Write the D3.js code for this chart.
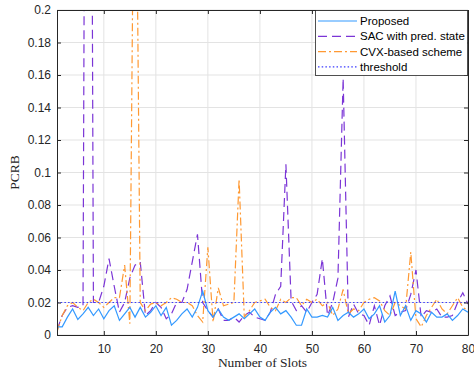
<!DOCTYPE html>
<html>
<head>
<meta charset="utf-8">
<script src="https://cdn.jsdelivr.net/npm/d3@7"></script>
<style>
  body { margin: 0; background: #fff; }
  svg { display: block; }
</style>
</head>
<body>
<svg id="chart"></svg>
<script>
// slots 1..80
const slots = d3.range(1, 81);

const proposed = [0.005, 0.005, 0.011, 0.016, 0.0096, 0.013, 0.017, 0.012, 0.016, 0.010,
  0.015, 0.018, 0.009, 0.013, 0.017, 0.011, 0.017, 0.011, 0.014, 0.018,
  0.012, 0.017, 0.006, 0.009, 0.013, 0.016, 0.011, 0.017, 0.027, 0.015,
  0.011, 0.016, 0.011, 0.009, 0.011, 0.013, 0.010, 0.013, 0.016, 0.011,
  0.009, 0.014, 0.017, 0.013, 0.015, 0.011, 0.006, 0.006, 0.016, 0.011,
  0.011, 0.012, 0.011, 0.017, 0.009, 0.012, 0.014, 0.011, 0.013, 0.016,
  0.010, 0.013, 0.018, 0.008, 0.012, 0.027, 0.012, 0.018, 0.009, 0.015,
  0.013, 0.008, 0.014, 0.011, 0.011, 0.013, 0.009, 0.012, 0.016, 0.014];

const sac = [0.003, 0.012, 0.017, 0.018, 0.017, 0.018, 0.9, 0.02, 0.02, 0.03,
  0.047, 0.03, 0.014, 0.02, 0.035, 0.043, 0.045, 0.012, 0.015, 0.02,
  0.017, 0.010, 0.013, 0.02, 0.02, 0.028, 0.045, 0.062, 0.02, 0.015,
  0.011, 0.016, 0.009, 0.009, 0.011, 0.008, 0.012, 0.014, 0.011, 0.010,
  0.009, 0.014, 0.025, 0.030, 0.105, 0.021, 0.015, 0.018, 0.014, 0.02,
  0.025, 0.047, 0.012, 0.02, 0.035, 0.158, 0.011, 0.019, 0.013, 0.012,
  0.006, 0.018, 0.006, 0.018, 0.024, 0.012, 0.014, 0.015, 0.025, 0.040,
  0.011, 0.015, 0.014, 0.016, 0.011, 0.011, 0.012, 0.020, 0.026, 0.019];

const cvx = [0.002, 0.012, 0.018, 0.02, 0.017, 0.015, 0.02, 0.022, 0.02, 0.017,
  0.02, 0.023, 0.023, 0.043, 0.007, 0.38, 0.02, 0.015, 0.019, 0.02,
  0.018, 0.02, 0.023, 0.022, 0.02, 0.02, 0.018, 0.012, 0.008, 0.054,
  0.008, 0.029, 0.018, 0.019, 0.02, 0.096, 0.011, 0.015, 0.02, 0.021,
  0.022, 0.017, 0.015, 0.022, 0.02, 0.023, 0.023, 0.018, 0.022, 0.02,
  0.022, 0.018, 0.02, 0.012, 0.016, 0.028, 0.013, 0.016, 0.015, 0.02,
  0.022, 0.023, 0.021, 0.015, 0.012, 0.02, 0.018, 0.016, 0.051, 0.01,
  0.005, 0.012, 0.017, 0.022, 0.016, 0.013, 0.018, 0.023, 0.017, 0.015];

const threshold = slots.map(() => 0.02);

const xTicks = [10, 20, 30, 40, 50, 60, 70, 80];
const yTicks = d3.range(0, 0.2001, 0.02);

const seriesNames = ['Proposed', 'SAC with pred. state', 'CVX-based scheme', 'threshold'];
const seriesColors = ['#3399ff', '#7b35d6', '#ff9933', '#3b3bff'];
const seriesDash = [null, '9,5', '8,3,2,3', '1.5,2.2'];
const seriesData = [proposed, sac, cvx, threshold];

const width = 474, height = 370;
const margin = {top: 10, right: 6, bottom: 35, left: 57};

const svg = d3.select('#chart')
              .attr('width', width)
              .attr('height', height);

const x = d3.scaleLinear()
            .domain([1, 80])
            .range([margin.left, width - margin.right]);

const y = d3.scaleLinear()
            .domain([0, 0.2])
            .range([height - margin.bottom, margin.top]);

svg.append('defs')
   .append('clipPath')
   .attr('id', 'clip')
   .append('rect')
   .attr('x', margin.left)
   .attr('y', margin.top)
   .attr('width', width - margin.left - margin.right)
   .attr('height', height - margin.top - margin.bottom);

// grid
svg.append('g')
   .selectAll('line')
   .data(xTicks)
   .enter()
   .append('line')
   .attr('x1', d => x(d)).attr('x2', d => x(d))
   .attr('y1', margin.top).attr('y2', height - margin.bottom)
   .attr('stroke', '#e3e3e3');

svg.append('g')
   .selectAll('line')
   .data(yTicks)
   .enter()
   .append('line')
   .attr('x1', margin.left).attr('x2', width - margin.right)
   .attr('y1', d => y(d)).attr('y2', d => y(d))
   .attr('stroke', '#e3e3e3');

// series
const line = d3.line()
               .x((d, i) => x(slots[i]))
               .y(d => y(d));

const plot = svg.append('g').attr('clip-path', 'url(#clip)');

[1, 2, 0, 3].forEach(k => {
  plot.append('path')
      .datum(seriesData[k])
      .attr('fill', 'none')
      .attr('stroke', seriesColors[k])
      .attr('stroke-width', 1.2)
      .attr('stroke-dasharray', seriesDash[k])
      .attr('d', line);
});

// axes
const axisColor = '#262626';
const fontSans = 'Liberation Sans, Arial, sans-serif';

svg.append('g')
   .attr('transform', 'translate(0,' + (height - margin.bottom) + ')')
   .call(d3.axisBottom(x).tickValues(xTicks).tickSize(-4).tickPadding(9).tickSizeOuter(0));

svg.append('g')
   .attr('transform', 'translate(' + margin.left + ',0)')
   .call(d3.axisLeft(y).tickValues(yTicks).tickSize(-4).tickPadding(6).tickSizeOuter(0)
           .tickFormat(d => d3.format('~g')(+d.toFixed(2))));

svg.append('g')
   .attr('transform', 'translate(0,' + margin.top + ')')
   .call(d3.axisTop(x).tickValues(xTicks).tickSize(-4).tickFormat('').tickSizeOuter(0));

svg.append('g')
   .attr('transform', 'translate(' + (width - margin.right) + ',0)')
   .call(d3.axisRight(y).tickValues(yTicks).tickSize(-4).tickFormat('').tickSizeOuter(0));

svg.selectAll('.domain, .tick line')
   .attr('stroke', axisColor);

svg.selectAll('.tick text')
   .attr('fill', axisColor)
   .style('font-family', fontSans)
   .style('font-size', '12px');

// axis labels
svg.append('text')
   .attr('x', (margin.left + width - margin.right) / 2)
   .attr('y', height - 3)
   .attr('text-anchor', 'middle')
   .style('font-family', 'Liberation Serif, Times New Roman, serif')
   .style('font-size', '13.5px')
   .attr('fill', axisColor)
   .text('Number of Slots');

svg.append('text')
   .attr('transform', 'translate(19,' + ((margin.top + height - margin.bottom) / 2) + ') rotate(-90)')
   .attr('text-anchor', 'middle')
   .style('font-family', 'Liberation Serif, Times New Roman, serif')
   .style('font-size', '13.5px')
   .attr('fill', axisColor)
   .text('PCRB');

// legend
const legend = svg.append('g');
legend.append('rect')
      .attr('x', 315.5).attr('y', 10.5)
      .attr('width', 152).attr('height', 65)
      .attr('fill', '#fff')
      .attr('stroke', axisColor)
      .attr('stroke-width', 0.8);

seriesNames.forEach((name, k) => {
  const ly = 21 + k * 15.3;
  legend.append('line')
        .attr('x1', 318).attr('x2', 357)
        .attr('y1', ly).attr('y2', ly)
        .attr('stroke', seriesColors[k])
        .attr('stroke-width', 1.2)
        .attr('stroke-dasharray', seriesDash[k]);
  legend.append('text')
        .attr('x', 360)
        .attr('y', ly + 4)
        .style('font-family', fontSans)
        .style('font-size', '11.5px')
        .attr('fill', '#000')
        .text(name);
});
</script>
</body>
</html>
